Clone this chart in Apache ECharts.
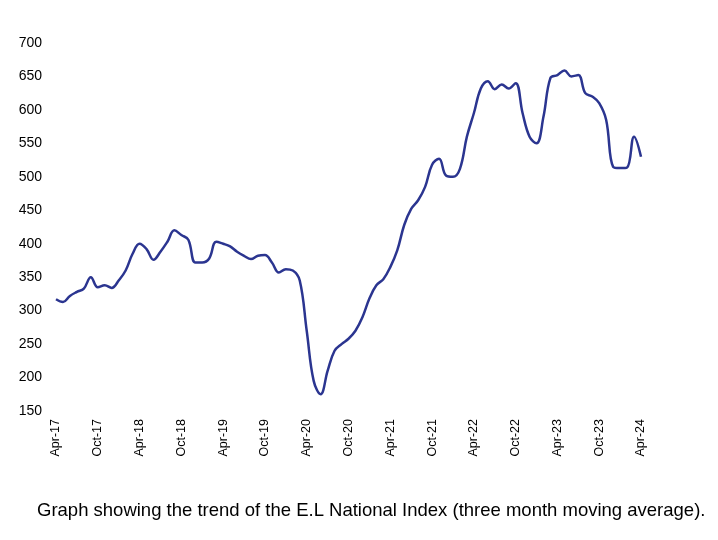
<!DOCTYPE html>
<html>
<head>
<meta charset="utf-8">
<script src="https://cdn.jsdelivr.net/npm/echarts@6/dist/echarts.min.js"></script>
<style>
html,body{margin:0;padding:0;background:#fff;}
#chart{width:718px;height:540px;}
</style>
</head>
<body>
<div id="chart"></div>
<script>
const monthNames = ["Jan","Feb","Mar","Apr","May","Jun","Jul","Aug","Sep","Oct","Nov","Dec"];
const startYear = 17, startMonth = 3, monthCount = 85;
const categories = [];
for (let i = 0; i < monthCount; i++) {
  const m = (startMonth + i) % 12;
  const y = startYear + Math.floor((startMonth + i) / 12);
  categories.push(monthNames[m] + "-" + y);
}
const indexValues = [
  317, 313, 322, 328, 333, 350, 335, 338, 334, 345,
  360, 385, 400, 392, 376, 388, 403, 420, 413, 406,
  372, 372, 378, 403, 400, 396, 388, 382, 377, 382,
  383, 372, 357, 362, 360, 345, 270, 195, 175, 210,
  240, 250, 258, 270, 290, 318, 338, 347, 365, 390,
  428, 452, 465, 485, 518, 527, 502, 500, 512, 560,
  595, 632, 643, 631, 638, 632, 640, 595, 560, 550,
  590, 648, 652, 659, 650, 652, 625, 620, 610, 585,
  515, 513, 514, 560, 530
];
const yTicks = { min: 150, max: 700, interval: 50 };
const caption = "Graph showing the trend of the E.L National Index (three month moving average).";

const chart = echarts.init(document.getElementById('chart'), null, {renderer: 'canvas'});
chart.setOption({
  backgroundColor: '#ffffff',
  animation: false,
  textStyle: { fontFamily: 'Liberation Sans, Arial, sans-serif' },
  title: {
    text: caption,
    left: 37,
    top: 501,
    padding: 0,
    textStyle: { fontSize: 18.5, fontWeight: 'normal', color: '#000', fontFamily: 'Liberation Sans, Arial, sans-serif' }
  },
  grid: { left: 56, right: 77, top: 43, bottom: 129, containLabel: false },
  xAxis: {
    type: 'category',
    data: categories,
    boundaryGap: false,
    axisLine: { show: false },
    axisTick: { show: false },
    splitLine: { show: false },
    axisLabel: {
      interval: 5,
      rotate: 90,
      margin: 8,
      fontSize: 12.5,
      color: '#000',
      fontFamily: 'Liberation Sans, Arial, sans-serif'
    }
  },
  yAxis: {
    type: 'value',
    min: yTicks.min,
    max: yTicks.max,
    interval: yTicks.interval,
    axisLine: { show: false },
    axisTick: { show: false },
    splitLine: { show: false },
    axisLabel: {
      margin: 14,
      fontSize: 14,
      color: '#000',
      fontFamily: 'Liberation Sans, Arial, sans-serif'
    }
  },
  series: [{
    type: 'line',
    data: indexValues,
    smooth: 0.4,
    symbol: 'none',
    lineStyle: { color: '#2B3590', width: 2.5 }
  }]
});
</script>
</body>
</html>
